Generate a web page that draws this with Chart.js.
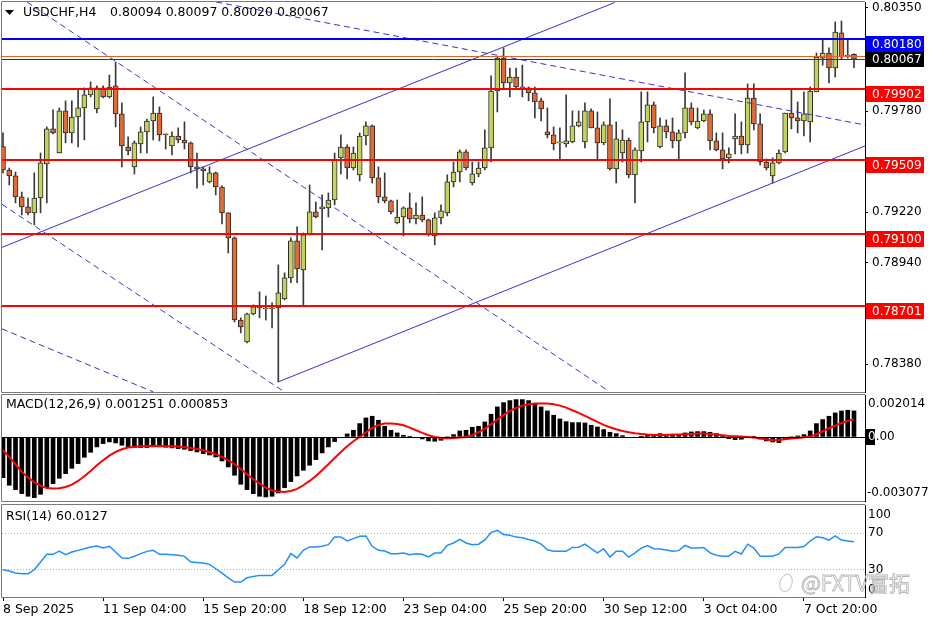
<!DOCTYPE html>
<html>
<head>
<meta charset="utf-8">
<title>USDCHF H4</title>
<script src="https://cdn.jsdelivr.net/npm/chart.js@4.4.1/dist/chart.umd.min.js"></script>
<style>
  body { margin: 0; background: #fff; }
  #wrap { position: relative; width: 936px; height: 624px; overflow: hidden; background: #fff; }
  #wrap canvas { position: absolute; left: 0; }
</style>
</head>
<body>
<div id="wrap">
  <canvas id="priceChart" width="936" height="394" style="top:0px"></canvas>
  <canvas id="macdChart" width="936" height="109" style="top:394px"></canvas>
  <canvas id="rsiChart" width="936" height="121" style="top:503px"></canvas>
</div>
<script>
// USDCHF H4 candles, 8 Sep - 8 Oct 2025
const opens = [
  0.79583, 0.79454, 0.79421, 0.79305, 0.79250, 0.79217, 0.79299, 0.79487, 0.79681, 0.79548,
  0.79781, 0.79659, 0.79747, 0.79797, 0.79869, 0.79792, 0.79908, 0.79858, 0.79919, 0.79764,
  0.79581, 0.79471, 0.79598, 0.79665, 0.79725, 0.79769, 0.79653, 0.79587, 0.79642, 0.79620,
  0.79604, 0.79471, 0.79460, 0.79388, 0.79438, 0.79360, 0.79217, 0.79078, 0.78624, 0.78503,
  0.78658, 0.78691, 0.78685, 0.78685, 0.78691, 0.78741, 0.78857, 0.79062, 0.78901, 0.79095,
  0.79222, 0.79239, 0.79244, 0.79288, 0.79521, 0.79581, 0.79465, 0.79427, 0.79642, 0.79698,
  0.79410, 0.79305, 0.79283, 0.79161, 0.79194, 0.79244, 0.79183, 0.79205, 0.79178, 0.79089,
  0.79189, 0.79217, 0.79388, 0.79443, 0.79554, 0.79382, 0.79432, 0.79465, 0.79576, 0.79891,
  0.80073, 0.79935, 0.79968, 0.79913, 0.79908, 0.79880, 0.79836, 0.79665, 0.79648, 0.79604,
  0.79598, 0.79609, 0.79698, 0.79609, 0.79781, 0.79687, 0.79604, 0.79703, 0.79460, 0.79548,
  0.79620, 0.79427, 0.79559, 0.79720, 0.79814, 0.79581, 0.79698, 0.79665, 0.79615, 0.79659,
  0.79797, 0.79687, 0.79725, 0.79764, 0.79615, 0.79565, 0.79521, 0.79626, 0.79642, 0.79593,
  0.79852, 0.79709, 0.79498, 0.79421, 0.79493, 0.79554, 0.79769, 0.79742, 0.79725, 0.79720,
  0.79886, 0.80073, 0.80101, 0.80018, 0.80212, 0.80084, 0.80094
];
const highs = [
  0.79659, 0.79465, 0.79443, 0.79332, 0.79299, 0.79438, 0.79548, 0.79692, 0.79786, 0.79797,
  0.79836, 0.79836, 0.79902, 0.79908, 0.79941, 0.79919, 0.79919, 0.79979, 0.80051, 0.79825,
  0.79637, 0.79615, 0.79692, 0.79736, 0.79858, 0.79803, 0.79653, 0.79665, 0.79687, 0.79720,
  0.79609, 0.79548, 0.79471, 0.79471, 0.79443, 0.79366, 0.79217, 0.79084, 0.78636, 0.78663,
  0.78708, 0.78780, 0.78757, 0.78719, 0.78929, 0.78885, 0.79078, 0.79139, 0.79106, 0.79371,
  0.79277, 0.79316, 0.79327, 0.79548, 0.79648, 0.79593, 0.79581, 0.79659, 0.79720, 0.79703,
  0.79471, 0.79438, 0.79288, 0.79288, 0.79250, 0.79327, 0.79272, 0.79305, 0.79183, 0.79217,
  0.79261, 0.79427, 0.79498, 0.79565, 0.79565, 0.79498, 0.79498, 0.79676, 0.79974, 0.80079,
  0.80129, 0.80018, 0.80018, 0.80034, 0.79913, 0.79913, 0.79852, 0.79797, 0.79692, 0.79687,
  0.79869, 0.79781, 0.79781, 0.79825, 0.79792, 0.79775, 0.79720, 0.79847, 0.79720, 0.79676,
  0.79631, 0.79576, 0.79886, 0.79886, 0.79830, 0.79742, 0.79731, 0.79742, 0.79676, 0.79991,
  0.79825, 0.79797, 0.79786, 0.79786, 0.79659, 0.79659, 0.79576, 0.79764, 0.79720, 0.79930,
  0.79930, 0.79764, 0.79515, 0.79521, 0.79565, 0.79769, 0.79897, 0.79830, 0.79886, 0.79913,
  0.80101, 0.80173, 0.80129, 0.80273, 0.80278, 0.80173, 0.80097
];
const lows = [
  0.79438, 0.79371, 0.79272, 0.79205, 0.79205, 0.79150, 0.79217, 0.79272, 0.79653, 0.79548,
  0.79604, 0.79604, 0.79581, 0.79620, 0.79858, 0.79769, 0.79852, 0.79852, 0.79692, 0.79471,
  0.79537, 0.79432, 0.79548, 0.79548, 0.79620, 0.79615, 0.79570, 0.79537, 0.79604, 0.79570,
  0.79438, 0.79354, 0.79371, 0.79382, 0.79316, 0.79156, 0.78995, 0.78613, 0.78553, 0.78497,
  0.78652, 0.78636, 0.78624, 0.78580, 0.78282, 0.78735, 0.78830, 0.78830, 0.78708, 0.79095,
  0.79189, 0.79012, 0.79194, 0.79261, 0.79432, 0.79405, 0.79454, 0.79393, 0.79593, 0.79382,
  0.79272, 0.79272, 0.79211, 0.79156, 0.79089, 0.79161, 0.79156, 0.79167, 0.79089, 0.79040,
  0.79156, 0.79200, 0.79360, 0.79388, 0.79454, 0.79371, 0.79416, 0.79454, 0.79498, 0.79775,
  0.79897, 0.79858, 0.79908, 0.79858, 0.79836, 0.79742, 0.79725, 0.79631, 0.79565, 0.79515,
  0.79581, 0.79604, 0.79692, 0.79576, 0.79687, 0.79515, 0.79593, 0.79454, 0.79382, 0.79498,
  0.79410, 0.79272, 0.79498, 0.79609, 0.79659, 0.79576, 0.79631, 0.79576, 0.79509, 0.79631,
  0.79703, 0.79681, 0.79720, 0.79565, 0.79559, 0.79460, 0.79493, 0.79543, 0.79543, 0.79548,
  0.79676, 0.79482, 0.79454, 0.79382, 0.79487, 0.79548, 0.79681, 0.79659, 0.79642, 0.79609,
  0.79886, 0.80034, 0.79935, 0.79968, 0.80068, 0.80073, 0.80020
];
const closes = [
  0.79454, 0.79421, 0.79305, 0.79250, 0.79217, 0.79299, 0.79493, 0.79681, 0.79659, 0.79781,
  0.79659, 0.79747, 0.79797, 0.79869, 0.79908, 0.79908, 0.79858, 0.79913, 0.79764, 0.79587,
  0.79559, 0.79604, 0.79665, 0.79725, 0.79769, 0.79648, 0.79648, 0.79642, 0.79620, 0.79604,
  0.79471, 0.79460, 0.79449, 0.79438, 0.79360, 0.79217, 0.79078, 0.78624, 0.78586, 0.78658,
  0.78697, 0.78702, 0.78685, 0.78691, 0.78774, 0.78857, 0.79062, 0.78907, 0.79095, 0.79222,
  0.79194, 0.79250, 0.79288, 0.79509, 0.79581, 0.79465, 0.79548, 0.79642, 0.79698, 0.79410,
  0.79305, 0.79283, 0.79222, 0.79194, 0.79244, 0.79183, 0.79205, 0.79178, 0.79100, 0.79189,
  0.79228, 0.79388, 0.79443, 0.79554, 0.79465, 0.79432, 0.79465, 0.79576, 0.79891, 0.80073,
  0.79935, 0.79968, 0.79913, 0.79908, 0.79880, 0.79830, 0.79792, 0.79648, 0.79598, 0.79604,
  0.79615, 0.79698, 0.79720, 0.79781, 0.79687, 0.79604, 0.79703, 0.79460, 0.79626, 0.79620,
  0.79427, 0.79565, 0.79720, 0.79814, 0.79687, 0.79698, 0.79665, 0.79615, 0.79659, 0.79797,
  0.79720, 0.79725, 0.79764, 0.79615, 0.79565, 0.79515, 0.79543, 0.79642, 0.79593, 0.79852,
  0.79709, 0.79498, 0.79465, 0.79493, 0.79548, 0.79769, 0.79742, 0.79725, 0.79764, 0.79891,
  0.80079, 0.80101, 0.80018, 0.80217, 0.80079, 0.80090, 0.80067
];

// MACD(12,26,9): histogram = main line, red = signal
const macdMain = [
  -0.001953, -0.002321, -0.002530, -0.002722, -0.002850, -0.002914, -0.002754, -0.002434, -0.002241, -0.001985,
  -0.001761, -0.001505, -0.001281, -0.000977, -0.000736, -0.000480, -0.000320, -0.000240, -0.000288, -0.000400,
  -0.000480, -0.000512, -0.000512, -0.000512, -0.000480, -0.000480, -0.000496, -0.000528, -0.000560, -0.000592,
  -0.000656, -0.000720, -0.000801, -0.000865, -0.000961, -0.001153, -0.001441, -0.001841, -0.002273, -0.002530,
  -0.002722, -0.002850, -0.002882, -0.002850, -0.002690, -0.002434, -0.002145, -0.001873, -0.001601, -0.001361,
  -0.001089, -0.000768, -0.000480, -0.000224, -0.000032, 0.000144, 0.000320, 0.000640, 0.000913, 0.000993,
  0.000801, 0.000512, 0.000320, 0.000192, 0.000080, 0.000032, -0.000016, -0.000096, -0.000192, -0.000208,
  -0.000160, 0.000000, 0.000112, 0.000288, 0.000320, 0.000464, 0.000512, 0.000720, 0.001089, 0.001441,
  0.001649, 0.001745, 0.001793, 0.001793, 0.001745, 0.001601, 0.001441, 0.001249, 0.001041, 0.000865,
  0.000736, 0.000688, 0.000688, 0.000672, 0.000560, 0.000480, 0.000352, 0.000224, 0.000160, 0.000064,
  -0.000032, -0.000016, 0.000016, 0.000080, 0.000112, 0.000160, 0.000128, 0.000080, 0.000096, 0.000192,
  0.000240, 0.000256, 0.000256, 0.000224, 0.000160, 0.000064, -0.000080, -0.000128, -0.000112, 0.000000,
  0.000032, -0.000096, -0.000192, -0.000240, -0.000272, -0.000128, 0.000000, 0.000048, 0.000112, 0.000288,
  0.000640, 0.000833, 0.000993, 0.001153, 0.001249, 0.001281, 0.001251
];
const macdSignal = [
  -0.000640, -0.000961, -0.001313, -0.001681, -0.001953, -0.002177, -0.002353, -0.002450, -0.002482, -0.002466,
  -0.002402, -0.002289, -0.002113, -0.001889, -0.001633, -0.001361, -0.001121, -0.000897, -0.000720, -0.000592,
  -0.000512, -0.000480, -0.000448, -0.000432, -0.000432, -0.000432, -0.000448, -0.000448, -0.000464, -0.000496,
  -0.000528, -0.000576, -0.000640, -0.000720, -0.000833, -0.000961, -0.001121, -0.001313, -0.001537, -0.001793,
  -0.002033, -0.002241, -0.002434, -0.002562, -0.002626, -0.002642, -0.002594, -0.002498, -0.002321, -0.002113,
  -0.001873, -0.001601, -0.001313, -0.001009, -0.000720, -0.000448, -0.000208, 0.000000, 0.000224, 0.000432,
  0.000576, 0.000640, 0.000640, 0.000624, 0.000560, 0.000448, 0.000320, 0.000192, 0.000080, 0.000000,
  -0.000048, -0.000064, -0.000048, -0.000032, 0.000000, 0.000096, 0.000224, 0.000400, 0.000608, 0.000833,
  0.001057, 0.001249, 0.001393, 0.001505, 0.001569, 0.001601, 0.001601, 0.001601, 0.001569, 0.001505,
  0.001409, 0.001281, 0.001153, 0.001009, 0.000865, 0.000720, 0.000576, 0.000464, 0.000368, 0.000288,
  0.000224, 0.000176, 0.000144, 0.000112, 0.000096, 0.000096, 0.000096, 0.000112, 0.000112, 0.000128,
  0.000144, 0.000160, 0.000160, 0.000144, 0.000112, 0.000080, 0.000048, 0.000032, 0.000016, 0.000000,
  -0.000032, -0.000080, -0.000128, -0.000160, -0.000144, -0.000112, -0.000080, -0.000048, -0.000016, 0.000016,
  0.000128, 0.000272, 0.000416, 0.000544, 0.000672, 0.000768, 0.000853
];

// RSI(14)
const rsiValues = [
  29.6, 28.2, 26.0, 25.3, 25.3, 29.6, 38.0, 46.4, 46.4, 50.0,
  46.0, 48.9, 50.7, 52.5, 54.4, 55.5, 53.3, 55.1, 48.9, 42.4,
  42.0, 44.2, 47.1, 49.6, 50.7, 46.4, 46.4, 46.0, 45.3, 44.2,
  38.0, 37.6, 36.9, 35.5, 30.7, 26.0, 20.9, 16.2, 16.2, 20.9,
  22.4, 23.5, 23.5, 23.5, 29.6, 35.5, 47.1, 42.4, 50.7, 54.4,
  54.4, 55.1, 56.9, 65.3, 65.3, 60.9, 63.5, 66.0, 66.4, 55.1,
  50.7, 50.0, 47.1, 47.1, 47.8, 46.0, 47.1, 46.4, 43.5, 47.8,
  47.8, 56.2, 58.7, 62.7, 58.7, 56.7, 57.4, 62.0, 70.0, 72.5,
  67.9, 67.2, 65.1, 64.4, 62.6, 60.9, 57.4, 51.4, 49.7, 49.7,
  49.7, 53.9, 54.2, 57.4, 52.5, 47.9, 52.5, 43.3, 49.7, 49.7,
  43.3, 47.9, 53.2, 56.0, 52.5, 52.1, 51.1, 49.7, 50.4, 56.0,
  53.2, 53.2, 53.9, 47.9, 45.4, 44.4, 44.4, 49.7, 46.8, 57.4,
  53.2, 44.4, 44.4, 44.4, 46.8, 53.9, 53.9, 53.9, 54.9, 60.9,
  65.4, 64.4, 61.9, 66.5, 61.9, 60.9, 60.0127
];
const rsiLevels = [70, 30];

const priceTicks = [0.80350, 0.79780, 0.79220, 0.78940, 0.78380];
const timeTickBars = [0, 16, 32, 48, 64, 80, 96, 112, 128];
const timeTickLabels = ['8 Sep 2025', '11 Sep 04:00', '15 Sep 20:00', '18 Sep 12:00', '23 Sep 04:00',
  '25 Sep 20:00', '30 Sep 12:00', '3 Oct 04:00', '7 Oct 20:00'];

// horizontal levels: first one blue, the rest red
const levelPrices = [0.80180, 0.79902, 0.79509, 0.79100, 0.78701];
const askPrice = 0.80085;
const bidPrice = 0.80067;

// trend lines as [bar index, price] pairs
const trendLines = [
  [[-0.16, 0.79026], [97.76, 0.80380]],
  [[44, 0.78282], [137.76, 0.79587]],
  [[3.84, 0.80383], [96.48, 0.78238]],
  [[-0.16, 0.79264], [44.96, 0.78227]],
  [[-0.16, 0.78575], [24, 0.78227]],
  [[34.08, 0.80383], [137.76, 0.79703]]
];
const trendDashed = [false, false, true, true, true, true];

const barIndex = opens.map((_, i) => i);
const X_MIN = -0.16, X_MAX = 137.76;
const FONT = '"DejaVu Sans", Verdana, sans-serif';
const BULL = '#c6d35a', BEAR = '#e36a33';
const LAST = opens.length - 1;

Chart.defaults.font.family = FONT;
Chart.defaults.color = '#000';

const baseOptions = {
  responsive: false,
  animation: false,
  devicePixelRatio: 1,
  events: [],
  plugins: { legend: { display: false }, tooltip: { enabled: false } }
};

function xHidden() {
  return { type: 'linear', min: X_MIN, max: X_MAX, offset: false, display: false };
}

// right axis: fixed width, no extra room for the end labels
function fitRightAxis(s) {
  s.width = 71;
  s.paddingTop = 0;
  s.paddingBottom = 0;
}

function drawFrame(chart) {
  const a = chart.chartArea, ctx = chart.ctx;
  ctx.save();
  ctx.strokeStyle = '#7a7a7a';
  ctx.lineWidth = 1;
  ctx.beginPath();
  ctx.moveTo(a.right, a.top - 0.5);
  ctx.lineTo(a.left - 0.5, a.top - 0.5);
  ctx.lineTo(a.left - 0.5, a.bottom + 0.5);
  ctx.lineTo(a.right, a.bottom + 0.5);
  ctx.stroke();
  ctx.restore();
}

function sideText(ctx, text, x, y, size, color) {
  ctx.font = size + 'px ' + FONT;
  ctx.fillStyle = color || '#000';
  ctx.textAlign = 'left';
  ctx.textBaseline = 'middle';
  ctx.fillText(text, x, y);
}

const priceOverlay = {
  id: 'priceOverlay',
  afterDatasetsDraw(chart) {
    const { ctx, chartArea: a, scales: { y } } = chart;
    ctx.save();
    const hline = (price, color, width) => {
      const py = Math.round(y.getPixelForValue(price)) + (width % 2 ? 0.5 : 0);
      ctx.strokeStyle = color;
      ctx.lineWidth = width;
      ctx.beginPath();
      ctx.moveTo(a.left, py);
      ctx.lineTo(a.right, py);
      ctx.stroke();
    };
    hline(askPrice, '#e0642a', 1);
    hline(bidPrice, '#2a2a8a', 1);
    levelPrices.forEach((p, k) => hline(p, k === 0 ? '#0000ff' : '#ff0000', 2));
    ctx.restore();
  },
  afterDraw(chart) {
    const { ctx, chartArea: a, scales: { y } } = chart;
    drawFrame(chart);
    ctx.save();
    const tag = (price, bg, top, h) => {
      ctx.fillStyle = bg;
      ctx.fillRect(a.right + 1, top, 58, h);
      sideText(ctx, price.toFixed(5), a.right + 7, top + h / 2 + 0.5, 12, '#fff');
    };
    levelPrices.forEach((p, k) => {
      const py = y.getPixelForValue(p);
      tag(p, k === 0 ? '#0000ff' : '#ff0000', Math.round(py) - 3, 16);
    });
    tag(bidPrice, '#000', Math.round(y.getPixelForValue(bidPrice)) - 7, 15);

    // header
    ctx.fillStyle = '#000';
    ctx.beginPath();
    ctx.moveTo(5, 10); ctx.lineTo(14, 10); ctx.lineTo(9.5, 15); ctx.closePath();
    ctx.fill();
    sideText(ctx, 'USDCHF,H4', 23, 13, 12.5);
    const ohlc = [opens[LAST], highs[LAST], lows[LAST], closes[LAST]].map(v => v.toFixed(5)).join(' ');
    sideText(ctx, ohlc, 110, 13, 12.5);
    ctx.restore();
  }
};

new Chart(document.getElementById('priceChart'), {
  type: 'bar',
  data: {
    datasets: [
      {
        data: barIndex.map(i => ({ x: i, y: [opens[i], closes[i]] })),
        backgroundColor: barIndex.map(i => closes[i] >= opens[i] ? BULL : BEAR),
        borderColor: '#2b2b2b',
        borderWidth: 1,
        borderSkipped: false,
        barThickness: 5,
        minBarLength: 1,
        grouped: false,
        order: 1
      },
      {
        data: barIndex.map(i => ({ x: i, y: [lows[i], highs[i]] })),
        backgroundColor: '#3a3a3a',
        barThickness: 1,
        grouped: false,
        order: 2
      },
      ...trendLines.map((pts, k) => ({
        type: 'line',
        data: pts.map(p => ({ x: p[0], y: p[1] })),
        borderColor: '#3434d4',
        borderWidth: 1,
        borderDash: trendDashed[k] ? [6, 4] : [],
        pointRadius: 0,
        order: 0
      }))
    ]
  },
  options: {
    ...baseOptions,
    layout: { padding: { top: 2, bottom: 2, left: 2, right: 0 } },
    scales: {
      x: xHidden(),
      y: {
        position: 'right',
        min: 0.78226,
        max: 0.80383,
        afterBuildTicks: s => { s.ticks = priceTicks.map(v => ({ value: v })); },
        afterFit: fitRightAxis,
        ticks: { autoSkip: false, padding: 4, font: { size: 12 }, color: '#000', callback: v => v.toFixed(5) },
        grid: { drawOnChartArea: false, drawTicks: true, tickLength: 3, color: '#000' },
        border: { color: '#000' }
      }
    }
  },
  plugins: [priceOverlay]
});

const macdOverlay = {
  id: 'macdOverlay',
  afterDatasetsDraw(chart) {
    const { ctx, chartArea: a, scales: { y } } = chart;
    const py = Math.round(y.getPixelForValue(0)) + 0.5;
    ctx.save();
    ctx.strokeStyle = '#000';
    ctx.lineWidth = 1;
    ctx.beginPath();
    ctx.moveTo(a.left, py);
    ctx.lineTo(a.right, py);
    ctx.stroke();
    ctx.restore();
  },
  afterDraw(chart) {
    const { ctx, chartArea: a, scales: { y } } = chart;
    drawFrame(chart);
    ctx.save();
    sideText(ctx, 'MACD(12,26,9) ' + macdMain[LAST].toFixed(6) + ' ' + macdSignal[LAST].toFixed(6), 6, a.top + 10, 12.5);
    sideText(ctx, y.max.toFixed(6), a.right + 3, a.top + 9, 12);
    sideText(ctx, y.min.toFixed(6), a.right + 2, a.bottom - 8, 12);
    const p0 = y.getPixelForValue(0);
    ctx.fillStyle = '#000';
    ctx.fillRect(a.right + 1, Math.round(p0) - 8, 9, 16);
    sideText(ctx, '0', a.right + 3, p0, 12, '#fff');
    ctx.restore();
  }
};

new Chart(document.getElementById('macdChart'), {
  type: 'bar',
  data: {
    datasets: [
      {
        data: barIndex.map(i => ({ x: i, y: macdMain[i] })),
        backgroundColor: '#000',
        barThickness: 4,
        grouped: false,
        order: 1
      },
      {
        type: 'line',
        data: barIndex.map(i => ({ x: i, y: macdSignal[i] })),
        borderColor: '#ff0000',
        borderWidth: 2,
        pointRadius: 0,
        tension: 0,
        order: 0
      }
    ]
  },
  options: {
    ...baseOptions,
    layout: { padding: { top: 1, bottom: 2, left: 2, right: 0 } },
    scales: {
      x: xHidden(),
      y: {
        position: 'right',
        min: -0.003077,
        max: 0.002014,
        afterBuildTicks: s => { s.ticks = [{ value: 0 }]; },
        afterFit: fitRightAxis,
        ticks: { autoSkip: false, padding: 3, font: { size: 12 }, color: '#000', callback: () => '0.00' },
        grid: { drawOnChartArea: false, drawTicks: false },
        border: { color: '#000' }
      }
    }
  },
  plugins: [macdOverlay]
});

const rsiOverlay = {
  id: 'rsiOverlay',
  beforeDatasetsDraw(chart) {
    const { ctx, chartArea: a, scales: { y } } = chart;
    ctx.save();
    ctx.strokeStyle = '#b4b4b4';
    ctx.lineWidth = 1;
    ctx.setLineDash([1, 2]);
    rsiLevels.forEach(v => {
      const py = Math.round(y.getPixelForValue(v)) + 0.5;
      ctx.beginPath();
      ctx.moveTo(a.left, py);
      ctx.lineTo(a.right, py);
      ctx.stroke();
    });
    ctx.restore();
  },
  afterDraw(chart) {
    const { ctx, chartArea: a, scales: { y } } = chart;
    drawFrame(chart);
    ctx.save();
    sideText(ctx, 'RSI(14) ' + rsiValues[LAST].toFixed(4), 6, a.top + 12, 12.5);
    sideText(ctx, String(y.max), a.right + 3, a.top + 10, 12);
    sideText(ctx, String(y.min), a.right + 3, a.bottom - 7, 12);
    // watermark
    ctx.font = '21px "Noto Sans CJK SC", sans-serif';
    ctx.strokeStyle = '#b8b8b8';
    ctx.lineWidth = 0.9;
    ctx.textBaseline = 'middle';
    ctx.strokeText('@FXTV富拓', 801, a.bottom - 14);
    ctx.beginPath();
    ctx.ellipse(786, a.bottom - 14, 6, 9, 0.3, 0, Math.PI * 2);
    ctx.stroke();
    ctx.restore();
  }
};

new Chart(document.getElementById('rsiChart'), {
  type: 'line',
  data: {
    datasets: [{
      data: barIndex.map(i => ({ x: i, y: rsiValues[i] })),
      borderColor: '#1e90ff',
      borderWidth: 1.5,
      pointRadius: 0,
      tension: 0
    }]
  },
  options: {
    ...baseOptions,
    layout: { padding: { top: 2, bottom: 0, left: 2, right: 0 } },
    scales: {
      x: {
        type: 'linear',
        min: X_MIN,
        max: X_MAX,
        offset: false,
        afterBuildTicks: s => { s.ticks = timeTickBars.map(v => ({ value: v })); },
        afterFit: s => { s.height = 27; s.paddingLeft = 0; s.paddingRight = 0; },
        ticks: {
          autoSkip: false, maxRotation: 0, align: 'start', padding: 1,
          font: { size: 12.5 }, color: '#000',
          callback: (v, i) => timeTickLabels[i]
        },
        grid: { drawOnChartArea: false, drawTicks: true, tickLength: 4, color: '#000' },
        border: { display: false }
      },
      y: {
        position: 'right',
        min: 0,
        max: 100,
        afterBuildTicks: s => { s.ticks = rsiLevels.map(v => ({ value: v })); },
        afterFit: fitRightAxis,
        ticks: { autoSkip: false, padding: 3, font: { size: 12 }, color: '#000' },
        grid: { drawOnChartArea: false, drawTicks: false },
        border: { color: '#000' }
      }
    }
  },
  plugins: [rsiOverlay]
});
</script>
</body>
</html>
